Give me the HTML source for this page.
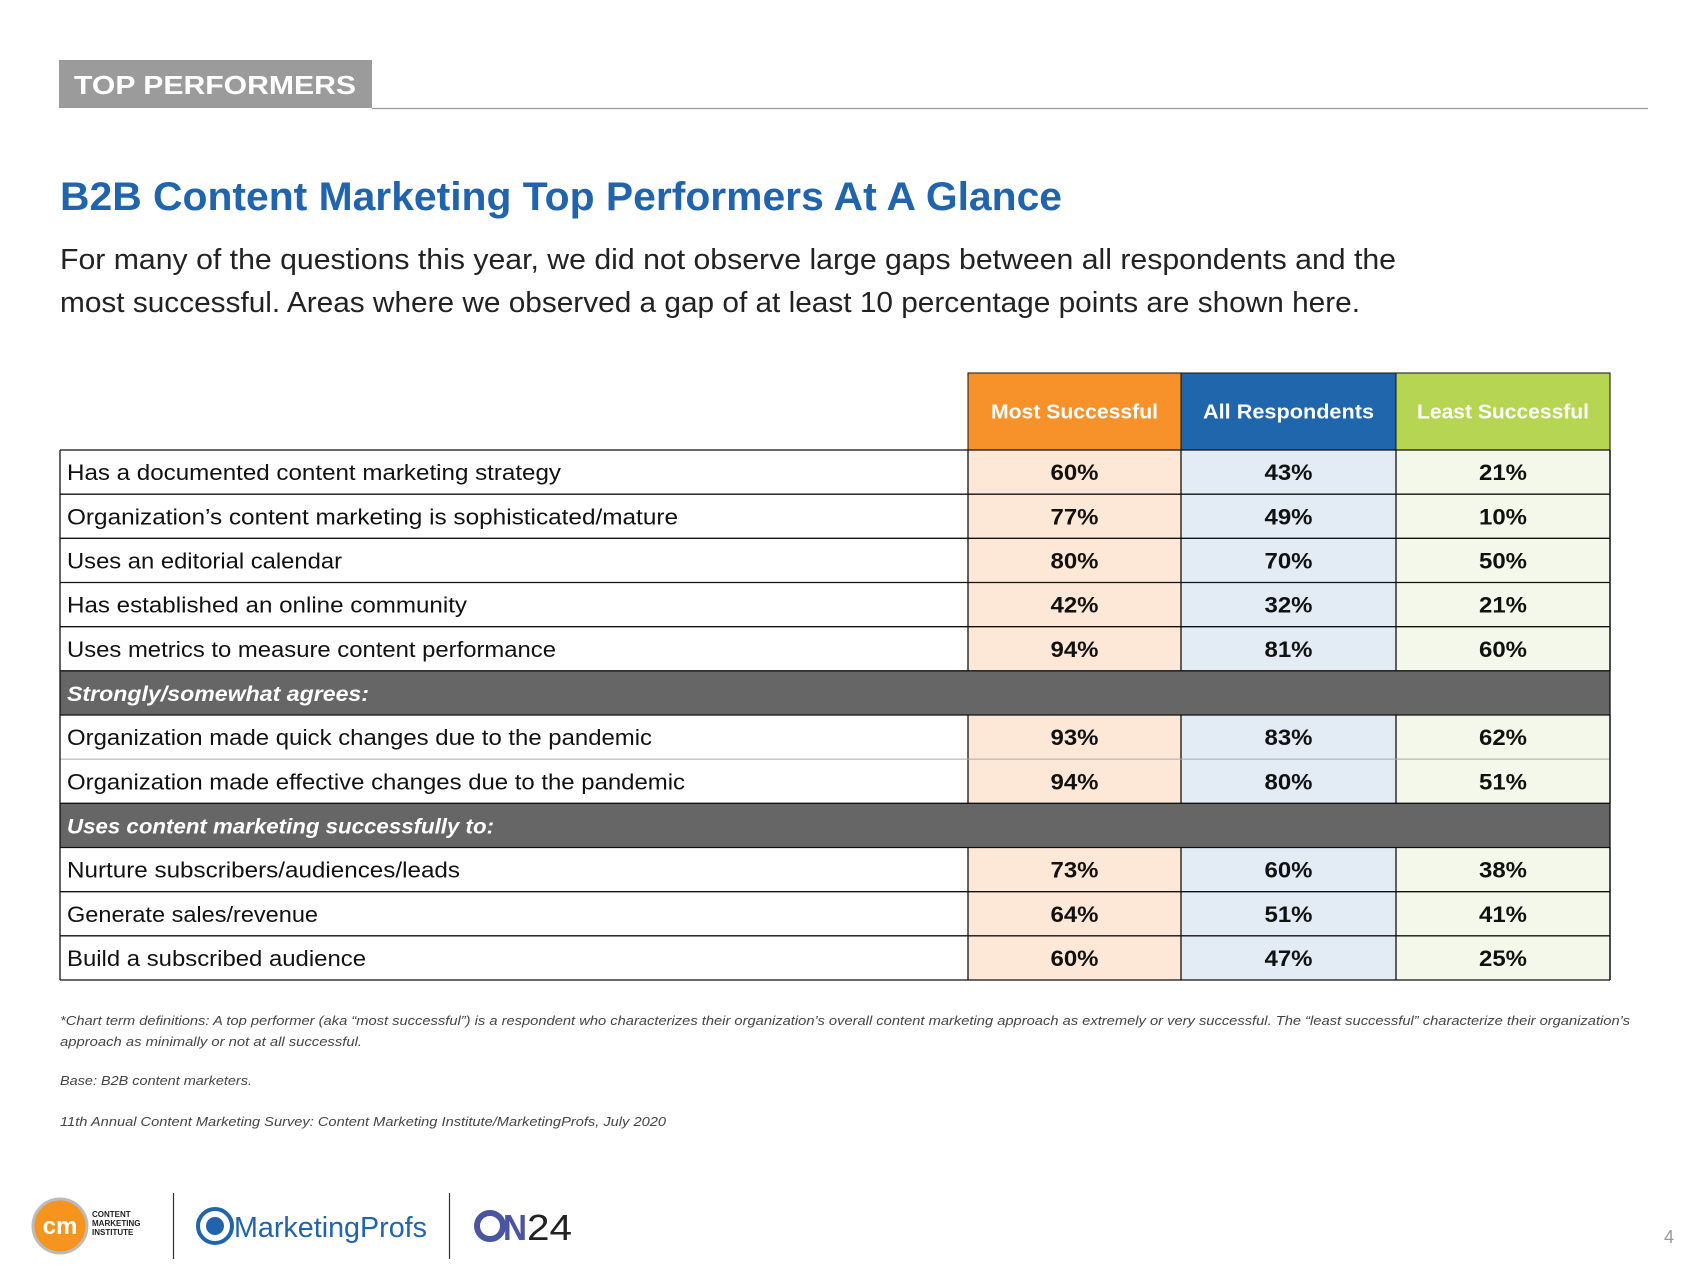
<!DOCTYPE html>
<html><head><meta charset="utf-8"><style>
html,body{margin:0;padding:0;background:#fff;}
svg{display:block;font-family:"Liberation Sans",sans-serif;}
</style></head><body>
<svg id="page" width="1707" height="1280" viewBox="0 0 1707 1280">
  <rect x="59" y="60" width="313" height="48" fill="#9b9b9b"/>
  <text x="74" y="94" font-size="26" font-weight="bold" fill="#fff" textLength="282" lengthAdjust="spacingAndGlyphs">TOP PERFORMERS</text>
  <line x1="372" y1="108.5" x2="1648" y2="108.5" stroke="#9b9b9b" stroke-width="1.2"/>
  <text x="60" y="210" font-size="40" font-weight="bold" fill="#1f64ad" textLength="1002" lengthAdjust="spacingAndGlyphs">B2B Content Marketing Top Performers At A Glance</text>
  <text x="60" y="269" font-size="29" fill="#222" textLength="1336" lengthAdjust="spacingAndGlyphs">For many of the questions this year, we did not observe large gaps between all respondents and the</text>
  <text x="60" y="312" font-size="29" fill="#222" textLength="1300" lengthAdjust="spacingAndGlyphs">most successful. Areas where we observed a gap of at least 10 percentage points are shown here.</text>
  <g id="table"></g>
  <text x="60" y="1025" font-size="13" font-style="italic" fill="#444" textLength="1570" lengthAdjust="spacingAndGlyphs">*Chart term definitions: A top performer (aka “most successful”) is a respondent who characterizes their organization’s overall content marketing approach as extremely or very successful. The “least successful” characterize their organization’s</text>
  <text x="60" y="1046" font-size="13" font-style="italic" fill="#444" textLength="302" lengthAdjust="spacingAndGlyphs">approach as minimally or not at all successful.</text>
  <text x="60" y="1085" font-size="13" font-style="italic" fill="#444" textLength="192" lengthAdjust="spacingAndGlyphs">Base: B2B content marketers.</text>
  <text x="60" y="1126" font-size="13" font-style="italic" fill="#444" textLength="606" lengthAdjust="spacingAndGlyphs">11th Annual Content Marketing Survey: Content Marketing Institute/MarketingProfs, July 2020</text>
  <g>
    <circle cx="60" cy="1226" r="27" fill="#f7941d" stroke="#bbb" stroke-width="3"/>
    <text x="60" y="1234" font-size="24" font-weight="bold" fill="#fff" text-anchor="middle">cm</text>
    <text x="92" y="1217" font-size="8" font-weight="bold" fill="#222">CONTENT</text>
    <text x="92" y="1226" font-size="8" font-weight="bold" fill="#222">MARKETING</text>
    <text x="92" y="1235" font-size="8" font-weight="bold" fill="#222">INSTITUTE</text>
  </g>
  <line x1="173.5" y1="1193" x2="173.5" y2="1259" stroke="#333" stroke-width="1.2"/>
  <g>
    <circle cx="215" cy="1226" r="17" fill="#fff" stroke="#1f64ad" stroke-width="4"/>
    <circle cx="215" cy="1226" r="9" fill="#1f64ad"/>
    <text x="234" y="1237" font-size="29" fill="#1f64ad" textLength="193" lengthAdjust="spacingAndGlyphs">MarketingProfs</text>
  </g>
  <line x1="449.5" y1="1193" x2="449.5" y2="1259" stroke="#333" stroke-width="1.2"/>
  <g>
    <circle cx="490" cy="1226" r="13" fill="none" stroke="#4a55a2" stroke-width="6"/>
    <text x="503" y="1240" font-size="36" font-weight="bold" fill="#4a55a2" textLength="24" lengthAdjust="spacingAndGlyphs">N</text>
    <text x="527" y="1240" font-size="36" fill="#222" textLength="45" lengthAdjust="spacingAndGlyphs">24</text>
  </g>
  <text x="1664" y="1243" font-size="18" fill="#999">4</text>
</svg>
<script>
const columnHeaders = ["Most Successful", "All Respondents", "Least Successful"];
const rowLabels = ["Has a documented content marketing strategy","Organization’s content marketing is sophisticated/mature","Uses an editorial calendar","Has established an online community","Uses metrics to measure content performance","Strongly/somewhat agrees:","Organization made quick changes due to the pandemic","Organization made effective changes due to the pandemic","Uses content marketing successfully to:","Nurture subscribers/audiences/leads","Generate sales/revenue","Build a subscribed audience"];
const mostSuccessful = [60,77,80,42,94,null,93,94,null,73,64,60];
const allRespondents = [43,49,70,32,81,null,83,80,null,60,51,47];
const leastSuccessful = [21,10,50,21,60,null,62,51,null,38,41,25];

const NS = "http://www.w3.org/2000/svg";
const g = document.getElementById('table');
const X0 = 60, colX = [968, 1181, 1396, 1610], HY0 = 373, TY0 = 450, TY1 = 980;
const rowH = (TY1 - TY0) / rowLabels.length;
const headFill = ["#f7922b", "#1f66ad", "#b5d553"];
const cellFill = ["#fde8d7", "#e3ebf5", "#f4f8eb"];
const series = [mostSuccessful, allRespondents, leastSuccessful];
function mk(tag, attrs, parent){const e=document.createElementNS(NS,tag);for(const k in attrs)e.setAttribute(k,attrs[k]);(parent||g).appendChild(e);return e;}
function rowY(i){return TY0 + i*rowH;}

columnHeaders.forEach((h,c)=>{
  const r = mk('rect',{x:colX[c],y:HY0,width:colX[c+1]-colX[c],height:TY0-HY0,fill:headFill[c],stroke:'#111','stroke-width':1});
  
  
  const t = mk('text',{x:(colX[c]+colX[c+1])/2,y:(HY0+TY0)/2+7,'font-size':20,'font-weight':'bold',fill:'#fff','text-anchor':'middle',textLength:[167,171,172][c],lengthAdjust:'spacingAndGlyphs'});
  t.textContent = h;
  
  
});

const labelLen = [494,611,275,400,489,302,585,618,427,393,251,299];
rowLabels.forEach((lab,i)=>{
  const y = rowY(i);
  const isSection = mostSuccessful[i] === null;
  if(isSection){
    const r = mk('rect',{x:X0,y:y,width:colX[3]-X0,height:rowH,fill:'#666'});
    
    
  } else {
    const r = mk('rect',{x:X0,y:y,width:colX[0]-X0,height:rowH,fill:'#fff'});
    
    
    series.forEach((s,c)=>{
      const cr = mk('rect',{x:colX[c],y:y,width:colX[c+1]-colX[c],height:rowH,fill:cellFill[c]});
      
      
      const t = mk('text',{x:(colX[c]+colX[c+1])/2,y:y+rowH/2+8,'font-size':22,'font-weight':'bold',fill:'#111','text-anchor':'middle',textLength:48,lengthAdjust:'spacingAndGlyphs'});
      t.textContent = s[i] + '%';
      
      
    });
    // column dividers for this row
    colX.forEach(x=>{
      const l = mk('line',{x1:x,y1:y,x2:x,y2:y+rowH,stroke:'#111','stroke-width':1.3});
      
      
    });
  }
  const t = mk('text',{x:67,y:y+rowH/2+8,'font-size':isSection?21:22,'font-weight':isSection?'bold':'normal','font-style':isSection?'italic':'normal',fill:isSection?'#fff':'#111',textLength:labelLen[i],lengthAdjust:'spacingAndGlyphs'});
  t.textContent = lab;
  
  
});

for(let i=0;i<=rowLabels.length;i++){
  const y = rowY(i);
  const light = (i===7);
  const l = mk('line',{x1:X0,y1:y,x2:colX[3],y2:y,stroke:light?'#aaa':'#111','stroke-width':light?1:1.3});
  
  
}
[X0, colX[3]].forEach(x=>{
  const l = mk('line',{x1:x,y1:TY0,x2:x,y2:TY1,stroke:'#111','stroke-width':1.3});
  
  
});
</script>
</body></html>
